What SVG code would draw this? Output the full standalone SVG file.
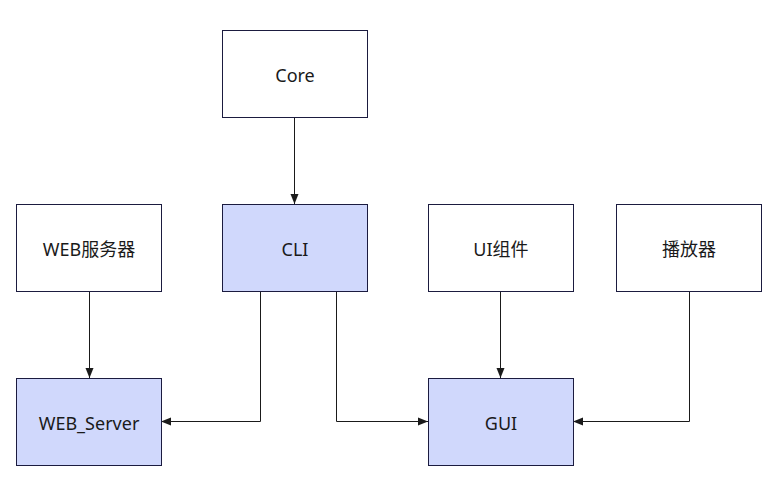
<svg xmlns="http://www.w3.org/2000/svg" width="778" height="486" viewBox="0 0 778 486">
<style>
.n rect{stroke:#1b1b3f;stroke-width:1}
.w{fill:#ffffff}
.b{fill:#d0d8fc}
.n text{font-family:"Noto Sans","Noto Sans CJK SC",sans-serif;font-size:18px;fill:#1a1a1a;text-anchor:middle;dominant-baseline:central}
.e path{fill:none;stroke:#1a1a1a;stroke-width:1}
</style>
<defs>
<marker id="a" viewBox="0 0 10 10" refX="10" refY="5" markerWidth="10" markerHeight="10" markerUnits="userSpaceOnUse" orient="auto">
<path d="M0,1 L10,5 L0,9 Z" fill="#1a1a1a"/>
</marker>
</defs>
<rect width="778" height="486" fill="#ffffff"/>
<g class="e">
<path d="M294.5,117 V204" marker-end="url(#a)"/>
<path d="M89.5,291 V378" marker-end="url(#a)"/>
<path d="M260.5,291 V421.5 H161" marker-end="url(#a)"/>
<path d="M336.5,291 V421.5 H428" marker-end="url(#a)"/>
<path d="M500.5,291 V378" marker-end="url(#a)"/>
<path d="M689.5,291 V421.5 H573" marker-end="url(#a)"/>
</g>
<g id="core" class="n"><rect class="w" x="222.5" y="30.5" width="145" height="87"/><text x="295" y="75">Core</text></g>
<g id="cli" class="n"><rect class="b" x="222.5" y="204.5" width="145" height="87"/><text x="295" y="249">CLI</text></g>
<g id="webfw" class="n"><rect class="w" x="16.5" y="204.5" width="145" height="87"/><text x="89" y="249">WEB服务器</text></g>
<g id="uizj" class="n"><rect class="w" x="428.5" y="204.5" width="145" height="87"/><text x="501" y="249">UI组件</text></g>
<g id="player" class="n"><rect class="w" x="616.5" y="204.5" width="145" height="87"/><text x="689" y="249">播放器</text></g>
<g id="webserver" class="n"><rect class="b" x="16.5" y="378.5" width="145" height="87"/><text x="89" y="423">WEB_Server</text></g>
<g id="gui" class="n"><rect class="b" x="428.5" y="378.5" width="145" height="87"/><text x="501" y="423">GUI</text></g>
</svg>
